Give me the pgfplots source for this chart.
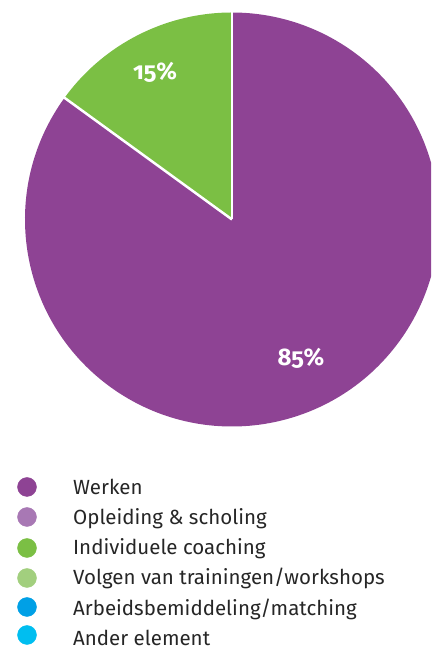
\documentclass[border=0pt]{standalone}
\usepackage{pgfplots}
\pgfplotsset{compat=1.18}
\usepackage{fontspec}
\setmainfont{Fira Sans}[Numbers=OldStyle]
\definecolor{cWerken}{HTML}{8E4394}
\definecolor{cOpleiding}{HTML}{A878B4}
\definecolor{cCoaching}{HTML}{7BBF44}
\definecolor{cVolgen}{HTML}{A2CF7E}
\definecolor{cArbeid}{HTML}{00A0E6}
\definecolor{cAnder}{HTML}{00BEF0}
% data (percent)
\def\pWerken{85}
\def\pCoaching{15}
\begin{document}
\begin{tikzpicture}
\begin{axis}[
  x=1pt, y=1pt,
  xmin=0, xmax=431, ymin=0, ymax=650,
  at={(0,0)}, anchor=origin,
  hide axis, clip=true,
]
\pgfmathsetmacro{\aStart}{90}
\pgfmathsetmacro{\aMid}{90+3.6*\pCoaching}
\pgfmathsetmacro{\aEnd}{\aMid+3.6*\pWerken}
% green slice
\fill[cCoaching] (axis cs:232,430.5) -- ++(\aStart:207pt) arc[start angle=\aStart, end angle=\aMid, radius=207pt] -- cycle;
% purple slice
\fill[cWerken] (axis cs:232,430.5) -- ++(\aMid:207pt) arc[start angle=\aMid, end angle=\aEnd, radius=207pt] -- cycle;
\draw[white, line width=2.5pt] (axis cs:232,430.5) -- ++(\aStart:209pt);
\draw[white, line width=2.5pt] (axis cs:232,430.5) -- ++(\aMid:209pt);
\node[white, font=\fontsize{24}{28}\selectfont\bfseries] at (axis cs:155,578) {15\%};
\node[white, font=\fontsize{24}{28}\selectfont\bfseries] at (axis cs:301,292) {85\%};
% legend markers
\addplot[only marks, mark=*, mark size=9.5pt, color=cWerken, mark options={draw=cWerken, fill=cWerken}] coordinates {(27,163)};
\addplot[only marks, mark=*, mark size=9.5pt, color=cOpleiding, mark options={draw=cOpleiding, fill=cOpleiding}] coordinates {(27,133)};
\addplot[only marks, mark=*, mark size=9.5pt, color=cCoaching, mark options={draw=cCoaching, fill=cCoaching}] coordinates {(27,102)};
\addplot[only marks, mark=*, mark size=9.5pt, color=cVolgen, mark options={draw=cVolgen, fill=cVolgen}] coordinates {(27,72)};
\addplot[only marks, mark=*, mark size=9.5pt, color=cArbeid, mark options={draw=cArbeid, fill=cArbeid}] coordinates {(27,43)};
\addplot[only marks, mark=*, mark size=9.5pt, color=cAnder, mark options={draw=cAnder, fill=cAnder}] coordinates {(27,15)};
\begin{scope}[every node/.style={anchor=base west, inner sep=0pt, font=\fontsize{20.5}{24}\selectfont, text=black!85}]
\node at (axis cs:73,155.7) {Werken};
\node at (axis cs:73,125.7) {Opleiding \& scholing};
\node at (axis cs:73,95) {Individuele coaching};
\node at (axis cs:73,65) {Volgen van trainingen/workshops};
\node at (axis cs:73,34) {Arbeidsbemiddeling/matching};
\node at (axis cs:73,4.5) {Ander element};
\end{scope}
\end{axis}
\path[use as bounding box] (0,0) rectangle (431pt,650pt);
\end{tikzpicture}
\end{document}
